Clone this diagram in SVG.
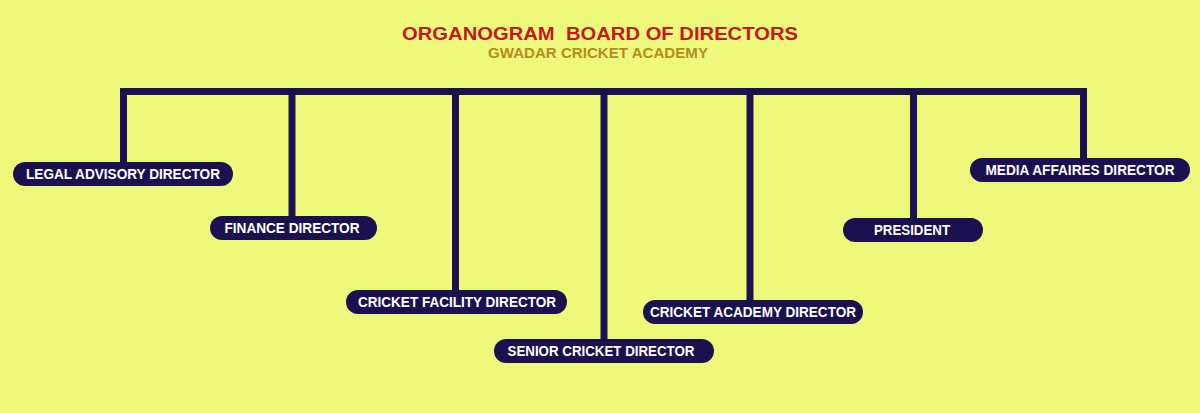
<svg xmlns="http://www.w3.org/2000/svg" width="1200" height="413" viewBox="0 0 1200 413">
<style>
.bg{fill:#EEF97C}
.box{fill:#1B1150}
.lbl{font-family:"Liberation Sans",Arial,sans-serif;font-weight:bold;font-size:14px;fill:#FFFFFF;text-anchor:middle}
.ln{stroke:#1B1150;stroke-width:7;fill:none;stroke-linejoin:miter;stroke-linecap:butt}
.title{font-family:"Liberation Sans",Arial,sans-serif;font-weight:bold;font-size:18.5px;fill:#C8161C;text-anchor:middle}
.sub{font-family:"Liberation Sans",Arial,sans-serif;font-weight:bold;font-size:14px;fill:#B58C1C;text-anchor:middle}
</style>
<rect class="bg" x="0" y="0" width="1200" height="413"/>
<g id="title">
<text class="title" x="600" y="39.5" textLength="396" lengthAdjust="spacingAndGlyphs">ORGANOGRAM&#160; BOARD OF DIRECTORS</text>
<text class="sub" x="598" y="58" textLength="220" lengthAdjust="spacingAndGlyphs">GWADAR CRICKET ACADEMY</text>
</g>
<g id="connectors">
<path class="ln" d="M123.5 165 V91.5 H1083.5 V160"/>
<path class="ln" d="M292 91.5 V218"/>
<path class="ln" d="M455.5 91.5 V292"/>
<path class="ln" d="M604 91.5 V341"/>
<path class="ln" d="M750 91.5 V302"/>
<path class="ln" d="M913.5 91.5 V220"/>
</g>
<g id="legal">
<rect class="box" x="13" y="162" width="220" height="24" rx="12"/>
<text class="lbl" x="123" y="179" textLength="194" lengthAdjust="spacingAndGlyphs">LEGAL ADVISORY DIRECTOR</text>
</g>
<g id="finance">
<rect class="box" x="210" y="216" width="167" height="24" rx="12"/>
<text class="lbl" x="292" y="233" textLength="135" lengthAdjust="spacingAndGlyphs">FINANCE DIRECTOR</text>
</g>
<g id="facility">
<rect class="box" x="346" y="290" width="221" height="24" rx="12"/>
<text class="lbl" x="457" y="307" textLength="198" lengthAdjust="spacingAndGlyphs">CRICKET FACILITY DIRECTOR</text>
</g>
<g id="senior">
<rect class="box" x="494" y="339" width="220" height="24" rx="12"/>
<text class="lbl" x="601" y="356" textLength="187" lengthAdjust="spacingAndGlyphs">SENIOR CRICKET DIRECTOR</text>
</g>
<g id="academy">
<rect class="box" x="643" y="300" width="220" height="24" rx="12"/>
<text class="lbl" x="753" y="317" textLength="206" lengthAdjust="spacingAndGlyphs">CRICKET ACADEMY DIRECTOR</text>
</g>
<g id="president">
<rect class="box" x="843" y="218" width="140" height="24" rx="12"/>
<text class="lbl" x="912" y="235" textLength="76" lengthAdjust="spacingAndGlyphs">PRESIDENT</text>
</g>
<g id="media">
<rect class="box" x="970" y="158" width="220" height="24" rx="12"/>
<text class="lbl" x="1080" y="175" textLength="189" lengthAdjust="spacingAndGlyphs">MEDIA AFFAIRES DIRECTOR</text>
</g>
</svg>
